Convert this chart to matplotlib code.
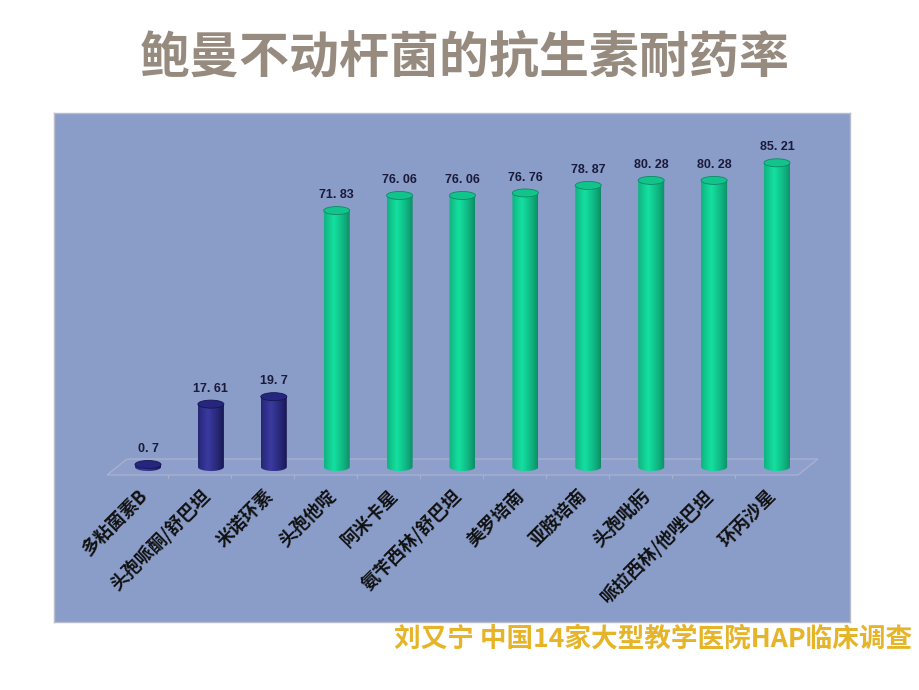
import numpy as np
import matplotlib
matplotlib.use("Agg")
import matplotlib.pyplot as plt
from matplotlib.patches import Ellipse, Polygon
from matplotlib.path import Path

categories = ["多粘菌素B", "头孢哌酮/舒巴坦", "米诺环素", "头孢他啶", "阿米卡星",
              "氨苄西林/舒巴坦", "美罗培南", "亚胺培南", "头孢吡肟",
              "哌拉西林/他唑巴坦", "环丙沙星"]
values = [0.7, 17.61, 19.7, 71.83, 76.06, 76.06, 76.76, 78.87, 80.28, 80.28, 85.21]
value_labels = ["0. 7", "17. 61", "19. 7", "71. 83", "76. 06", "76. 06", "76. 76",
                "78. 87", "80. 28", "80. 28", "85. 21"]
n_dark = 3

title = "鲍曼不动杆菌的抗生素耐药率"
footer = "刘又宁 中国14家大型教学医院HAP临床调查"

CJK = ["Noto Sans CJK SC", "DejaVu Sans"]

W, H = 920, 690
fig = plt.figure(figsize=(9.2, 6.9), dpi=100)
fig.patch.set_facecolor("white")

# panel in pixels
pl, pr, pt, pb = 54, 850, 113, 622
ax = fig.add_axes([pl / W, 1 - pb / H, (pr - pl) / W, (pb - pt) / H])
ax.set_facecolor("#8a9cc8")
for s in ax.spines.values():
    s.set_color("#b8bccc")
    s.set_linewidth(1.0)
ax.set_xticks([])
ax.set_yticks([])

x0px, dxpx = 148, 62.9
y0px, pxu = 467, 3.57
ax.set_xlim((pl - x0px) / dxpx, (pr - x0px) / dxpx)
ax.set_ylim(-(pb - y0px) / pxu, (y0px - pt) / pxu)

def px2x(p):
    return (p - x0px) / dxpx

def py2y(p):
    return (y0px - p) / pxu

# floor parallelogram
floor = Polygon([(px2x(107), py2y(475)), (px2x(798), py2y(475)),
                 (px2x(818), py2y(459)), (px2x(127), py2y(459))],
                closed=True, facecolor="#8e9fcb", edgecolor="#a9b0cf", lw=1.0, zorder=1)
ax.add_patch(floor)
for i in range(len(categories) - 1):
    xm = px2x(x0px + dxpx * (i + 0.5) - 11)
    ax.plot([xm, xm], [py2y(475), py2y(478)], color="#a9b0cf", lw=0.8, zorder=1)

bw = 26 / dxpx
eh = 8 / pxu

def grad_colors(dark, mid, n=64):
    t = np.linspace(0, 1, n)
    prof = np.clip(1 - np.abs(t - 0.38) / 0.62, 0, 1) ** 0.8
    dark = np.array(matplotlib.colors.to_rgb(dark))
    mid = np.array(matplotlib.colors.to_rgb(mid))
    return (dark[None, :] * (1 - prof[:, None]) + mid[None, :] * prof[:, None])[None, :, :]

for i, v in enumerate(values):
    x = i
    if i < n_dark:
        edge_c, mid_c, top_c = "#161650", "#3a3aa0", "#262680"
    else:
        edge_c, mid_c, top_c = "#0c8a64", "#14e0a0", "#12c48c"
    img = grad_colors(edge_c, mid_c)
    l, r = x - bw / 2, x + bw / 2
    th = np.linspace(np.pi, 2 * np.pi, 30)
    verts = [(l, v)] + [(x + bw / 2 * np.cos(t), eh / 2 * np.sin(t)) for t in th] + [(r, v), (l, v)]
    codes = [Path.MOVETO] + [Path.LINETO] * (len(verts) - 2) + [Path.CLOSEPOLY]
    clip = matplotlib.patches.PathPatch(Path(verts, codes), transform=ax.transData,
                                        facecolor="none", edgecolor="none")
    ax.add_patch(clip)
    im = ax.imshow(img, extent=[l, r, -eh / 2, v], aspect="auto", zorder=3,
                   interpolation="bilinear")
    im.set_clip_path(clip)
    top = Ellipse((x, v), bw, eh, facecolor=top_c, edgecolor=edge_c, lw=0.6, zorder=4)
    ax.add_patch(top)
    ax.text(x, v + 4.3, value_labels[i], ha="center", va="center", fontsize=9,
            fontweight="bold", color="#1a1a3a", family=["Liberation Sans", "DejaVu Sans"],
            zorder=5)
    ax.text(x - 0.17, py2y(486), categories[i], rotation=45, rotation_mode="anchor",
            ha="right", va="top", fontsize=13, fontweight="bold", color="#111111",
            family=CJK, zorder=5)

ax.set_xlim((pl - x0px) / dxpx, (pr - x0px) / dxpx)
ax.set_ylim(-(pb - y0px) / pxu, (y0px - pt) / pxu)

fig.text(465 / W, 1 - 58 / H, title, ha="center", va="center", fontsize=36,
         fontweight="heavy", color="#968b7e", family=CJK)
fig.text(912 / W, 1 - 639 / H, footer, ha="right", va="center", fontsize=19.2,
         fontweight="bold", color="#e6b428", family=CJK)

fig.savefig("out.png", dpi=100, facecolor="white")
